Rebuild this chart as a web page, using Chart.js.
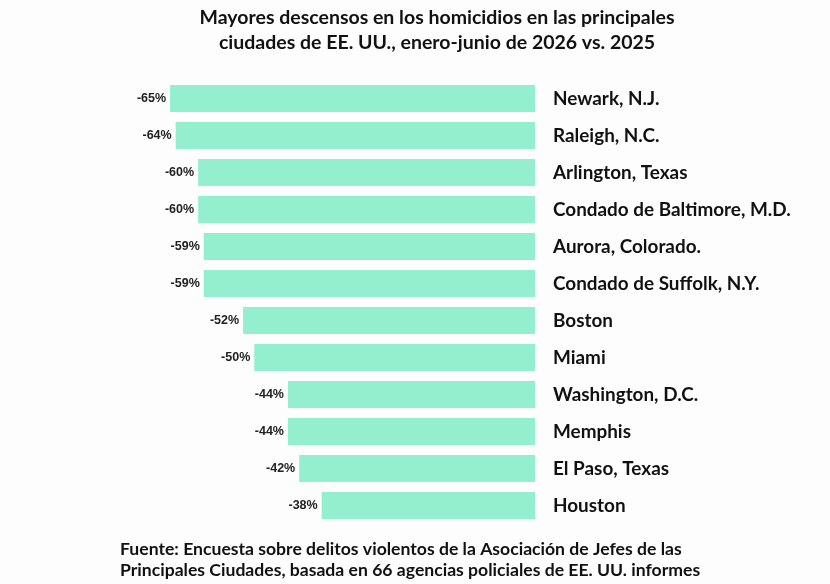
<!DOCTYPE html>
<html>
<head>
<meta charset="utf-8">
<script src="https://cdn.jsdelivr.net/npm/chart.js@4"></script>
<style>
    body { margin: 0; background: #fdfdfd; }
    #wrap { position: relative; width: 830px; height: 584px; }
</style>
</head>
<body>
<div id="wrap"><canvas id="chart"></canvas></div>
<script>
// datos
var cities = ['Newark, N.J.', 'Raleigh, N.C.', 'Arlington, Texas', 'Condado de Baltimore, M.D.',
    'Aurora, Colorado.', 'Condado de Suffolk, N.Y.', 'Boston', 'Miami', 'Washington, D.C.',
    'Memphis', 'El Paso, Texas', 'Houston'];
var changes = [-65, -64, -60, -60, -59, -59, -52, -50, -44, -44, -42, -38];
var titleLines = ['Mayores descensos en los homicidios en las principales',
    'ciudades de EE. UU., enero-junio de 2026 vs. 2025'];
var sourceLines = ['Fuente: Encuesta sobre delitos violentos de la Asociación de Jefes de las',
    'Principales Ciudades, basada en 66 agencias policiales de EE. UU. informes'];

var barColor = '#93efcd';

// etiquetas de valor a la izquierda de cada barra
var valueLabels = {
    id: 'valueLabels',
    afterDatasetsDraw(chart) {
        var ctx = chart.ctx;
        var meta = chart.getDatasetMeta(0);
        ctx.save();
        ctx.font = 'bold 12.5px "Liberation Sans"';
        ctx.fillStyle = '#222';
        ctx.textAlign = 'right';
        ctx.textBaseline = 'middle';
        meta.data.forEach(function (bar, i) {
            ctx.fillText(changes[i] + '%', bar.x - 4, bar.y);
        });
        ctx.restore();
    }
};

// titulo y fuente
var texts = {
    id: 'texts',
    afterDraw(chart) {
        var ctx = chart.ctx;
        ctx.save();
        ctx.fillStyle = '#111';
        ctx.textBaseline = 'middle';
        ctx.textAlign = 'center';
        ctx.font = 'bold 19.5px Lato';
        ctx.fillText(titleLines[0], 437, 18);
        ctx.fillText(titleLines[1], 437, 43);
        ctx.textAlign = 'left';
        ctx.font = 'bold 17.6px Lato';
        ctx.fillText(sourceLines[0], 120, 549);
        ctx.fillText(sourceLines[1], 120, 570);
        ctx.restore();
    }
};

var chart = new Chart(document.getElementById('chart'), {
    type: 'bar',
    data: {
        labels: cities,
        datasets: [{
            data: changes,
            backgroundColor: barColor,
            borderWidth: 0,
            barPercentage: 0.73,
            categoryPercentage: 1
        }]
    },
    options: {
        indexAxis: 'y',
        responsive: true,
        maintainAspectRatio: false,
        animation: false,
        layout: { padding: { left: 142, top: 80, bottom: 60, right: 0 } },
        plugins: {
            legend: { display: false },
            tooltip: { enabled: false }
        },
        scales: {
            x: {
                display: false,
                min: -70,
                max: 0
            },
            y: {
                position: 'right',
                grid: { display: false, drawTicks: false },
                border: { display: false },
                ticks: {
                    padding: 18,
                    color: '#111',
                    font: { family: 'Lato', size: 18.9, weight: 'bold' }
                },
                afterFit: function (scale) { scale.width = 295; }
            }
        }
    },
    plugins: [valueLabels, texts]
});
</script>
</body>
</html>
